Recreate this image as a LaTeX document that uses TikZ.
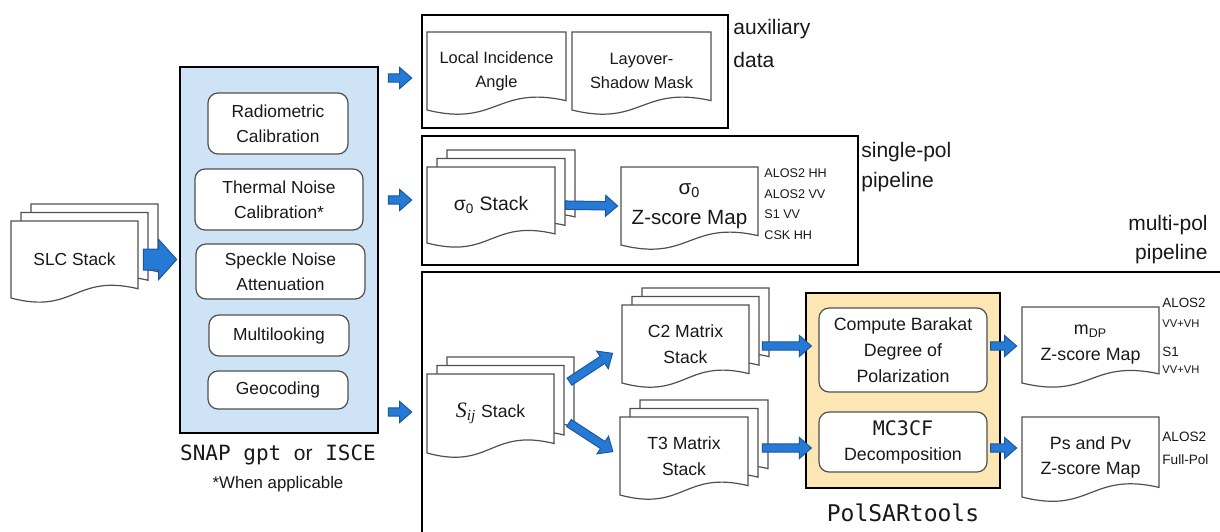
\documentclass[tikz,border=0pt]{standalone}
\usepackage{fontspec}
\setmainfont{Liberation Sans}
\setmonofont{DejaVu Sans Mono}
\newfontfamily\timesf{Liberation Serif}
\usetikzlibrary{calc}
\definecolor{arrowblue}{RGB}{38,121,212}
\definecolor{arrowdark}{RGB}{24,88,160}
\definecolor{snapblue}{RGB}{207,227,247}
\definecolor{polsar}{RGB}{252,230,180}
\definecolor{docgray}{RGB}{80,80,80}
\definecolor{txt}{RGB}{25,25,25}
\newcommand\fs[2]{\fontsize{#1pt}{#2pt}\selectfont}
\tikzset{
 docline/.style={draw=docgray, fill=white, line width=0.6pt},
 doctext/.style={align=center, inner sep=0pt, text=txt},
 rbox/.style={draw=docgray, fill=white, line width=0.6pt, rounded corners=5pt, inner sep=0pt, align=center, text=txt, font=\fs{8.7}{12.5}},
 cbox/.style={draw=black, line width=1.3pt, inner sep=0pt},
 lbl/.style={inner sep=0pt, text=txt, align=left},
 pos/.style n args={4}{at={({(#1+#3)/2},{(#2+#4)/2})}, minimum width={((#3)-(#1))*0.5pt}, minimum height={((#4)-(#2))*0.5pt}},
}
% document outline: L T R B (pixel units, y down)
\newcommand\docpath[4]{%
 \pgfmathsetmacro\dL{#1}\pgfmathsetmacro\dT{#2}\pgfmathsetmacro\dR{#3}\pgfmathsetmacro\dB{#4}%
 \pgfmathsetmacro\dH{\dB-\dT}\pgfmathsetmacro\dM{(\dL+\dR)/2}%
 \pgfmathsetmacro\dYr{\dB-0.12*\dH}\pgfmathsetmacro\dCa{\dYr-0.2*\dH}\pgfmathsetmacro\dCb{\dB+0.22*\dH}%
 \draw[docline] (\dL,\dT) -- (\dR,\dT) -- (\dR,\dYr) .. controls (\dM,\dCa) and (\dM,\dCb) .. (\dL,\dB) -- cycle;}
\newcommand\docnode[7]{\docpath{#2}{#3}{#4}{#5}\node[doctext, font=#6, pos={#2}{#3}{#4}{#5}] (#1) {#7};}
\newcommand\stackdoc[7]{\docpath{#2+20}{#3-17}{#4+20}{#5-17}\docpath{#2+10}{#3-8.5}{#4+10}{#5-8.5}\docnode{#1}{#2}{#3}{#4}{#5}{#6}{#7}}
% fat outlined arrow: from, to, shorten start, shorten end, shaft, head width, head length (pt)
\newcommand\fatarrow[7]{%
 \path let \p1=(#1), \p2=(#2) in \pgfextra{%
   \pgfmathsetmacro\faang{atan2((\y2)-(\y1),(\x2)-(\x1))}%
   \pgfmathsetmacro\falen{veclen((\x2)-(\x1),(\y2)-(\y1))}%
   \xdef\faAng{\faang}\xdef\faLen{\falen}%
   \xdef\faX{\x1}\xdef\faY{\y1}};
 \pgfmathsetmacro\faA{#3}%
 \pgfmathsetmacro\faC{\faLen-#4}%
 \pgfmathsetmacro\faB{\faC-#7}%
 \pgfmathsetmacro\faw{#5/2}%
 \pgfmathsetmacro\fah{#6/2}%
 \filldraw[fill=arrowblue, draw=arrowdark, line width=0.5pt, line join=miter, shift={(\faX,\faY)}, rotate=\faAng]
   (\faA pt,-\faw pt) -- (\faB pt,-\faw pt) -- (\faB pt,-\fah pt) -- (\faC pt,0pt) -- (\faB pt,\fah pt) -- (\faB pt,\faw pt) -- (\faA pt,\faw pt) -- cycle;
}
\newcommand\smallarrow[4]{\fatarrow{#1}{#2}{#3}{#4}{4.2}{10.5}{6}}
\begin{document}
\begin{tikzpicture}[x=0.5pt,y=-0.5pt]
\useasboundingbox (0,0) rectangle (1220,531);
\fill[white] (0,0) rectangle (1220,531);
\clip (0,0) rectangle (1220,531);

% containers
\node[cbox, fill=snapblue, pos={180}{67}{378}{433}] (snap) {};
\node[cbox, pos={422}{15}{728}{128}] (aux) {};
\node[cbox, pos={422}{136}{858}{265}] (single) {};
\node[cbox, pos={422}{272}{1250}{560}] (multi) {};
\node[cbox, fill=polsar, pos={806}{293}{1000}{488}] (polsar) {};

% SNAP steps
\node[rbox, pos={208}{93}{348}{154}] (radio) {Radiometric\\Calibration};
\node[rbox, pos={195}{169}{363}{230}] (thermal) {Thermal Noise\\Calibration*};
\node[rbox, pos={196}{244}{365}{299}] (speckle) {Speckle Noise\\Attenuation};
\node[rbox, pos={209}{315}{349}{356}] (multilook) {Multilooking};
\node[rbox, pos={208}{371}{348}{409}] (geo) {Geocoding};

% PolSARtools steps
\node[rbox, font=\fs{8.9}{13}, pos={819}{308}{987}{392}] (compute) {Compute Barakat\\Degree of\\Polarization};
\node[rbox, font=\fs{8.9}{12.5}, pos={819}{412}{987}{472}] (mc) {{\ttfamily\fs{10}{12.5}MC3CF}\\Decomposition};

% documents
\stackdoc{slc}{11}{221}{138}{298}{\fs{8.7}{12}}{SLC Stack}
\docnode{lia}{427}{32}{566}{110}{\fs{8.2}{12}}{Local Incidence\\Angle}
\docnode{lsm}{572}{32}{711}{110}{\fs{8.2}{12}}{Layover-\\Shadow Mask}
\stackdoc{sig}{427}{167}{555}{243}{\fs{9.7}{13}}{σ\textsubscript{0} Stack}
\docnode{sigz}{621}{167}{758}{245}{\fs{10.3}{15}}{σ\textsubscript{0}\\Z-score Map}
\stackdoc{sij}{427}{374}{554}{453}{\fs{8.8}{13}}{{\timesf\itshape\fs{11}{13}S\textsubscript{ij}} Stack}
\stackdoc{c2}{622}{305}{749}{383}{\fs{8.8}{13}}{C2 Matrix\\Stack}
\stackdoc{t3}{620}{417}{748}{495}{\fs{8.8}{13}}{T3 Matrix\\Stack}
\docnode{mdp}{1022}{307}{1159}{383}{\fs{8.9}{13}}{m\textsubscript{DP}\\Z-score Map}
\docnode{ps}{1022}{417}{1159}{497}{\fs{8.9}{12.5}}{Ps and Pv\\Z-score Map}

% labels
\node[lbl, anchor=west, font=\fs{10.5}{16.5}] (auxlbl) at (733,43.5) {auxiliary\\data};
\node[lbl, anchor=west, font=\fs{10.5}{15}] (singlelbl) at (861,167) {single-pol\\pipeline};
\node[lbl, anchor=east, align=right, font=\fs{10.5}{14.5}] (multilbl) at (1208,240) {multi-pol\\pipeline};
\node[inner sep=0pt, text=txt, font=\ttfamily\fs{10.5}{13}] (snaplbl) at (278,455) {SNAP gpt {\rmfamily or} ISCE};
\node[inner sep=0pt, text=txt, font=\fs{8.4}{10}] (whenlbl) at (278,484) {*When applicable};
\node[inner sep=0pt, text=txt, font=\ttfamily\fs{11.5}{13}] (polsarlbl) at (903,513) {PolSARtools};
\node[lbl, anchor=west, font=\fs{6.3}{10.3}] (sigbands) at (764,204) {ALOS2 HH\\ALOS2 VV\\S1 VV\\CSK HH};
\node[lbl, anchor=west, font=\fs{6.7}{8}] (mdpa) at (1162,303) {ALOS2};
\node[lbl, anchor=west, font=\fs{5.6}{7}] (mdpb) at (1162,324) {VV+VH};
\node[lbl, anchor=west, font=\fs{6.7}{8}] (mdpc) at (1162,352) {S1};
\node[lbl, anchor=west, font=\fs{5.6}{7}] (mdpd) at (1162,370) {VV+VH};
\node[lbl, anchor=west, font=\fs{6.8}{8}] (psa) at (1162,437) {ALOS2};
\node[lbl, anchor=west, font=\fs{6.8}{8}] (psb) at (1162,460) {Full-Pol};

% arrow rows
\coordinate (r1) at (0,78);
\coordinate (r2) at (0,200);
\coordinate (r3) at (0,412);
\coordinate (r4) at (0,346);
\coordinate (r5) at (0,448);

% arrows
\fatarrow{slc.east}{snap.west |- slc.east}{2.5}{1}{10.5}{20}{9}
\smallarrow{snap.east |- r1}{aux.west |- r1}{4.5}{4.5}
\smallarrow{snap.east |- r2}{single.west |- r2}{4.5}{4.5}
\smallarrow{snap.east |- r3}{multi.west |- r3}{4.5}{4.5}
\smallarrow{sig.east}{sigz.west}{5}{1.5}
\smallarrow{sij.19}{c2.183}{9}{5.4}
\smallarrow{sij.east}{t3.west}{8.7}{4}
\smallarrow{c2.east |- r4}{compute.west |- r4}{6.5}{3.5}
\smallarrow{t3.east |- r5}{mc.west |- r5}{7}{3.5}
\smallarrow{compute.east |- r4}{mdp.west |- r4}{1.5}{2.5}
\smallarrow{mc.east |- r5}{ps.west |- r5}{1.5}{2.5}
\end{tikzpicture}
\end{document}
